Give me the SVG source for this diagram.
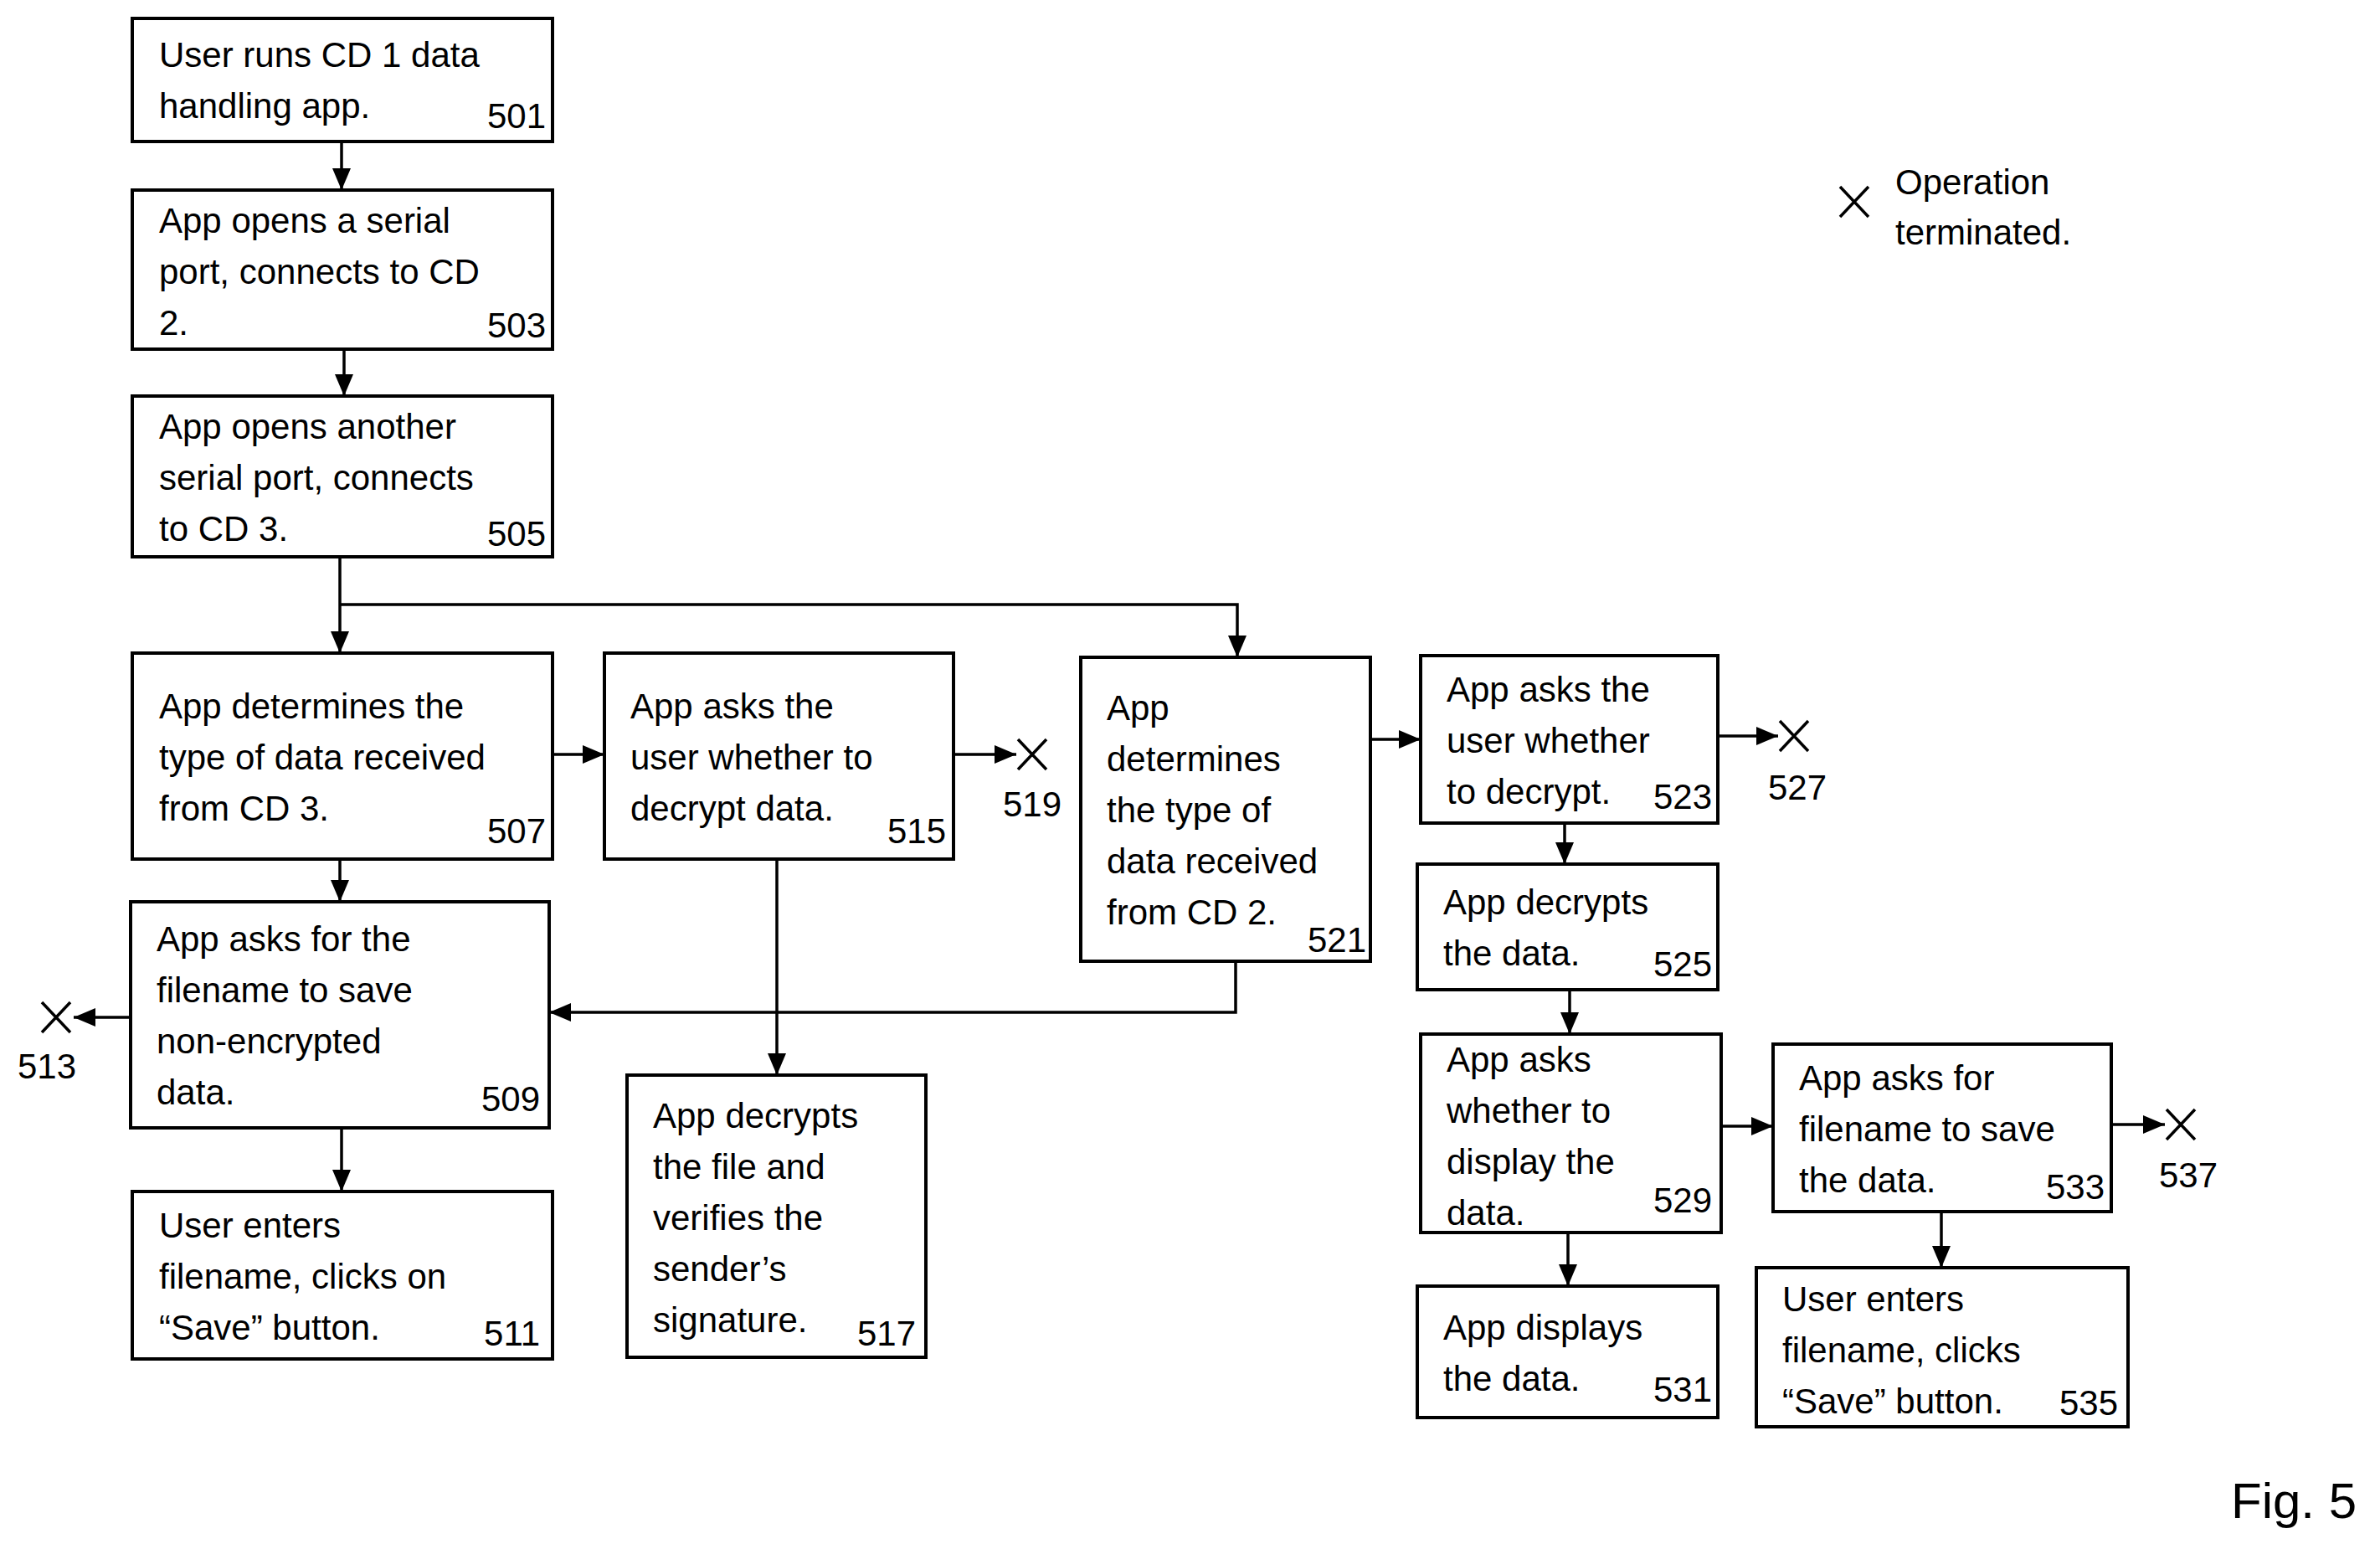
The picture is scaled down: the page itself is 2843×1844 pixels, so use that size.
<svg xmlns="http://www.w3.org/2000/svg" width="2843" height="1844" viewBox="0 0 2843 1844">
<style>
rect{fill:#fff;stroke:#000;stroke-width:4}
text{font-family:"Liberation Sans",Arial,sans-serif;font-size:42px;fill:#000}
.n{text-anchor:end}
.l{text-anchor:middle}
#connectors path{fill:none;stroke:#000;stroke-width:3.5}
.x{stroke:#000;stroke-width:3.5;fill:none}
</style>
<defs><marker id="a" viewBox="0 0 10 10" refX="10" refY="5" markerWidth="7" markerHeight="7" markerUnits="userSpaceOnUse" orient="auto"><path d="M0,0L10,5L0,10z" fill="#000"/></marker>
<marker id="ah" viewBox="0 0 10 10" refX="10" refY="5" markerWidth="26" markerHeight="22" markerUnits="userSpaceOnUse" orient="auto" preserveAspectRatio="none"><path d="M0,0L10,5L0,10z" fill="#000"/></marker></defs>
<rect x="0" y="0" width="2843" height="1844" style="fill:#fff;stroke:none"/>
<g id="connectors">
<path d="M408,169V227" marker-end="url(#ah)"/>
<path d="M411,417V473" marker-end="url(#ah)"/>
<path d="M406,665V780" marker-end="url(#ah)"/>
<path d="M406,722H1478V785" marker-end="url(#ah)"/>
<path d="M660,901H722" marker-end="url(#ah)"/>
<path d="M1139,901H1214" marker-end="url(#ah)"/>
<path d="M406,1026V1077" marker-end="url(#ah)"/>
<path d="M928,1026V1284" marker-end="url(#ah)"/>
<path d="M1476,1148V1209H656" marker-end="url(#ah)"/>
<path d="M156,1215H88" marker-end="url(#ah)"/>
<path d="M408,1347V1423" marker-end="url(#ah)"/>
<path d="M1637,883H1697" marker-end="url(#ah)"/>
<path d="M2052,879H2124" marker-end="url(#ah)"/>
<path d="M1869,983V1032" marker-end="url(#ah)"/>
<path d="M1875,1182V1235" marker-end="url(#ah)"/>
<path d="M2056,1345H2118" marker-end="url(#ah)"/>
<path d="M2522,1343H2586" marker-end="url(#ah)"/>
<path d="M1873,1472V1536" marker-end="url(#ah)"/>
<path d="M2319,1447V1514" marker-end="url(#ah)"/>
</g>
<g id="terminals">
<path class="x" d="M1216,883l34,36M1250,883l-34,36"/><text class="l" x="1233" y="975">519</text>
<path class="x" d="M50,1197l34,36M84,1197l-34,36"/><text class="l" x="56" y="1288">513</text>
<path class="x" d="M2126,861l34,36M2160,861l-34,36"/><text class="l" x="2147" y="955">527</text>
<path class="x" d="M2588,1325l34,36M2622,1325l-34,36"/><text class="l" x="2614" y="1418">537</text>
</g>
<g id="legend">
<path class="x" d="M2198,223l34,36M2232,223l-34,36"/>
<text x="2264" y="232">Operation</text><text x="2264" y="292">terminated.</text>
</g>
<g id="n501"><rect x="158" y="22" width="502" height="147"/><text x="190" y="80">User runs CD 1 data</text><text x="190" y="141">handling app.</text><text class="n" x="652" y="153">501</text></g>
<g id="n503"><rect x="158" y="227" width="502" height="190"/><text x="190" y="278">App opens a serial</text><text x="190" y="339">port, connects to CD</text><text x="190" y="400">2.</text><text class="n" x="652" y="403">503</text></g>
<g id="n505"><rect x="158" y="473" width="502" height="192"/><text x="190" y="524">App opens another</text><text x="190" y="585">serial port, connects</text><text x="190" y="646">to CD 3.</text><text class="n" x="652" y="652">505</text></g>
<g id="n507"><rect x="158" y="780" width="502" height="246"/><text x="190" y="858">App determines the</text><text x="190" y="919">type of data received</text><text x="190" y="980">from CD 3.</text><text class="n" x="652" y="1007">507</text></g>
<g id="n515"><rect x="722" y="780" width="417" height="246"/><text x="753" y="858">App asks the</text><text x="753" y="919">user whether to</text><text x="753" y="980">decrypt data.</text><text class="n" x="1130" y="1007">515</text></g>
<g id="n521"><rect x="1291" y="785" width="346" height="363"/><text x="1322" y="860">App</text><text x="1322" y="921">determines</text><text x="1322" y="982">the type of</text><text x="1322" y="1043">data received</text><text x="1322" y="1104">from CD 2.</text><text class="n" x="1632" y="1137">521</text></g>
<g id="n523"><rect x="1697" y="783" width="355" height="200"/><text x="1728" y="838">App asks the</text><text x="1728" y="899">user whether</text><text x="1728" y="960">to decrypt.</text><text class="n" x="2045" y="966">523</text></g>
<g id="n525"><rect x="1693" y="1032" width="359" height="150"/><text x="1724" y="1092">App decrypts</text><text x="1724" y="1153">the data.</text><text class="n" x="2045" y="1166">525</text></g>
<g id="n529"><rect x="1697" y="1235" width="359" height="237"/><text x="1728" y="1280">App asks</text><text x="1728" y="1341">whether to</text><text x="1728" y="1402">display  the</text><text x="1728" y="1463">data.</text><text class="n" x="2045" y="1448">529</text></g>
<g id="n533"><rect x="2118" y="1247" width="404" height="200"/><text x="2149" y="1302">App asks for</text><text x="2149" y="1363">filename to save</text><text x="2149" y="1424">the data.</text><text class="n" x="2514" y="1432">533</text></g>
<g id="n509"><rect x="156" y="1077" width="500" height="270"/><text x="187" y="1136">App asks for the</text><text x="187" y="1197">filename to save</text><text x="187" y="1258">non-encrypted</text><text x="187" y="1319">data.</text><text class="n" x="645" y="1327">509</text></g>
<g id="n511"><rect x="158" y="1423" width="502" height="200"/><text x="190" y="1478">User enters</text><text x="190" y="1539">filename, clicks on</text><text x="190" y="1600">“Save” button.</text><text class="n" x="645" y="1607">511</text></g>
<g id="n517"><rect x="749" y="1284" width="357" height="337"/><text x="780" y="1347">App decrypts</text><text x="780" y="1408">the file and</text><text x="780" y="1469">verifies the</text><text x="780" y="1530">sender’s</text><text x="780" y="1591">signature.</text><text class="n" x="1094" y="1607">517</text></g>
<g id="n531"><rect x="1693" y="1536" width="359" height="157"/><text x="1724" y="1600">App displays</text><text x="1724" y="1661">the data.</text><text class="n" x="2045" y="1674">531</text></g>
<g id="n535"><rect x="2098" y="1514" width="444" height="190"/><text x="2129" y="1566">User enters</text><text x="2129" y="1627">filename, clicks</text><text x="2129" y="1688">“Save” button.</text><text class="n" x="2530" y="1690">535</text></g>
<text x="2665" y="1813" style="font-size:60px">Fig. 5</text>
</svg>
